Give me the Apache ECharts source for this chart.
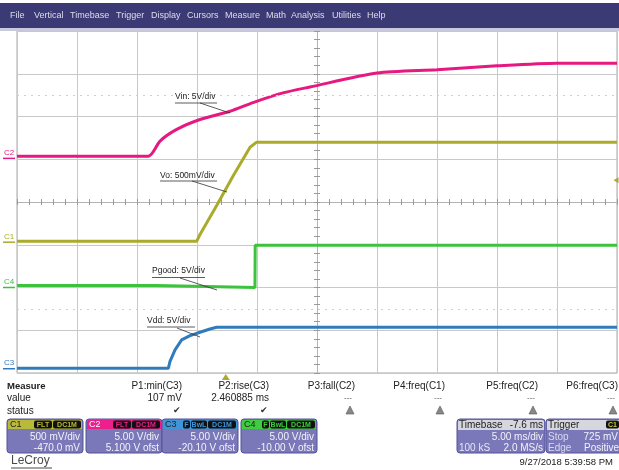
<!DOCTYPE html>
<html><head><meta charset="utf-8">
<script src="https://cdn.jsdelivr.net/npm/echarts/dist/echarts.min.js"></script>
<style>html,body{margin:0;padding:0;background:#fff}#c{width:619px;height:470px}</style>
</head><body><div id="c"></div>
<script>
// ---------------- data ----------------
const delayMs = -7.6;                 // timebase delay (trigger position vs. screen centre)
const channelNames = ['C1', 'C2', 'C3', 'C4'];
const voltsPerDiv = [0.5, 5, 5, 5];
const offsetVolts = [-0.47, 5.1, -20.1, -10];
const triggerLevelV = 0.725;

// C2  Vin (5 V/div)
const vinTimeMs = [-17.4, -6.46, -5.48, -4.09, -2.15, 0.35, 2.27, 4.77, 7.02, 12.6, 17.6, 22.6, 27.6, 32.6];
const vinVolts  = [0.25, 0.25, 2.03, 3.39, 4.55, 5.52, 6.53, 7.66, 8.35, 9.98, 10.37, 10.83, 11.14, 11.14];
// C1  Vo (500 mV/div)
const voTimeMs = [-17.4, -2.43, -2.15, -0.76, 0.63, 2.02, 2.57, 32.6];
const voVolts  = [0.01, 0.01, 0.09, 0.43, 0.78, 1.11, 1.17, 1.17];
// C4  Pgood (5 V/div)
const pgoodTimeMs = [-17.4, -5.82, -5.8, 2.43, 2.45, 32.6];
const pgoodVolts  = [0.23, 0.23, 0.0, 0.0, 4.94, 4.94];
// C3  Vdd (5 V/div)
const vddTimeMs = [-17.4, -4.79, -4.65, -4.23, -3.68, -2.98, -2.15, -1.32, -0.76, 32.6];
const vddVolts  = [0.65, 0.65, 1.46, 2.81, 3.97, 4.48, 4.87, 5.25, 5.45, 5.45];

const traceLabels = ['Vo: 500mV/div', 'Vin: 5V/div', 'Vdd: 5V/div', 'Pgood: 5V/div'];
const menuItems = ['File', 'Vertical', 'Timebase', 'Trigger', 'Display', 'Cursors', 'Measure', 'Math', 'Analysis', 'Utilities', 'Help'];
const measureNames  = ['P1:min(C3)', 'P2:rise(C3)', 'P3:fall(C2)', 'P4:freq(C1)', 'P5:freq(C2)', 'P6:freq(C3)'];
const measureValues = ['107 mV', '2.460885 ms', '---', '---', '---', '---'];
const measureOk     = [true, true, false, false, false, false];
const chVdivText   = ['500 mV/div', '5.00 V/div', '5.00 V/div', '5.00 V/div'];
const chOffsetText = ['-470.0 mV', '5.100 V ofst', '-20.10 V ofst', '-10.00 V ofst'];
const chTags = [['FLT', 'DC1M'], ['FLT', 'DC1M'], ['F', 'BwL', 'DC1M'], ['F', 'BwL', 'DC1M']];
const timebaseText = ['Timebase', '-7.6 ms', '5.00 ms/div', '100 kS', '2.0 MS/s'];
const triggerText = ['Trigger', 'C1', 'Stop', '725 mV', 'Edge', 'Positive'];
const dateText = '9/27/2018 5:39:58 PM';

// ---------------- styling ----------------
const FONT = 'Liberation Sans, Arial, sans-serif';
const traceColor  = ['#abab2b', '#e5197f', '#2f7bbb', '#3cc23c'];
const headerColor = ['#b9b93a', '#ec1f8c', '#3f95d8', '#40cc40'];
const headerTextColor = ['#222', '#fff', '#222', '#222'];

function toDiv(v, ch) { return (v + offsetVolts[ch]) / voltsPerDiv[ch]; }
function trace(times, volts, ch) { return times.map((t, i) => [t + delayMs, toDiv(volts[i], ch)]); }
function chanMark(ch) {
  const g = Math.max(-3.9, Math.min(3.9, toDiv(0, ch)));
  return {
    coord: [-25, g], symbol: 'rect', symbolSize: [12, 1.5], symbolOffset: [-8, 0],
    itemStyle: { color: traceColor[ch] },
    label: { show: true, position: 'top', distance: 1, formatter: channelNames[ch], fontSize: 8, fontFamily: FONT, color: traceColor[ch] }
  };
}

function lineSeries(name, data, ch, extra) {
  return Object.assign({
    name, type: 'line', data, showSymbol: false, symbol: 'none', animation: false,
    lineStyle: { color: traceColor[ch], width: 3 }, itemStyle: { color: traceColor[ch] },
    markPoint: { animation: false, silent: true, data: [chanMark(ch)] }
  }, extra || {});
}

const series = [
  lineSeries('Vdd', trace(vddTimeMs, vddVolts, 2), 2),
  lineSeries('Pgood', trace(pgoodTimeMs, pgoodVolts, 3), 3),
  lineSeries('Vo', trace(voTimeMs, voVolts, 0), 0),
  lineSeries('Vin', trace(vinTimeMs, vinVolts, 1), 1, { smooth: 0.25 })
];
// trigger markers on C1
series[2].markPoint.data.push(
  { coord: [delayMs, -4], symbol: 'triangle', symbolSize: [8, 6], symbolOffset: [0, 4], itemStyle: { color: '#aaaa30' }, label: { show: false } },
  { coord: [25, toDiv(triggerLevelV, 0)], symbol: 'triangle', symbolRotate: 90, symbolSize: [6, 5], symbolOffset: [-1, 0], itemStyle: { color: '#aaaa30' }, label: { show: false } }
);
// faint dotted reference rows
series[3].markLine = {
  silent: true, animation: false, symbol: ['none', 'none'], label: { show: false },
  lineStyle: { color: '#cfcfcf', type: [2, 5], width: 1 },
  data: [{ yAxis: 2.5 }, { yAxis: -2.5 }]
};

// ---------------- graphics (frame, annotations, panels) ----------------
const G = [];
function rect(x, y, w, h, fill, stroke, r) {
  G.push({ type: 'rect', z: 50, shape: { x, y, width: w, height: h, r: r || 0 }, style: { fill: fill || 'none', stroke: stroke || 'none', lineWidth: 1 } });
}
function txt(x, y, s, size, color, align, weight) {
  G.push({ type: 'text', z: 60, style: { x, y, text: s, font: (weight || 'normal') + ' ' + size + 'px ' + FONT, fill: color, textAlign: align || 'left', textVerticalAlign: 'middle' } });
}
function seg(x1, y1, x2, y2, color, w) {
  G.push({ type: 'line', z: 60, shape: { x1, y1, x2, y2 }, style: { stroke: color, lineWidth: w || 1 } });
}

// menu bar
rect(0, 3, 619, 25, '#3c3a74');
rect(0, 28, 619, 3, '#c9c9de');
const menuX = [10, 34, 70, 116, 151, 187, 225, 266, 291, 332, 367];
menuItems.forEach((m, i) => txt(menuX[i], 16, m, 9, '#dcdcec'));

// trace annotations: [textX, textY, underlineY, textRight, leader x1,y1,x2,y2]
const annPos = [
  [160, 176, 181, 217, 192, 181, 227, 192],
  [175, 97, 103, 217, 200, 103, 230, 113],
  [147, 321, 327, 195, 177, 328, 200, 337],
  [152, 271, 277.5, 205, 180, 278, 217, 290]
];
traceLabels.forEach((s, i) => {
  const p = annPos[i];
  txt(p[0], p[1], s, 8.5, '#222');
  seg(p[0], p[2], p[3], p[2], '#333', 0.8);
  seg(p[4], p[5], p[6], p[7], '#333', 0.8);
});

// measurement table
txt(7, 386, 'Measure', 9.5, '#222', 'left', 'bold');
txt(7, 398, 'value', 10, '#222');
txt(7, 411, 'status', 10, '#222');
const measRight = [182, 269, 355, 445, 538, 618];
measureNames.forEach((n, i) => {
  txt(measRight[i], 386, n, 10, '#222', 'right');
  txt(measRight[i] - (measureOk[i] ? 0 : 3), 398, measureValues[i], measureOk[i] ? 10 : 8, measureOk[i] ? '#222' : '#555', 'right');
  if (measureOk[i]) txt(measRight[i] - 5, 411, '\u2714', 9, '#333', 'center');
  else {
    const cx = measRight[i] - 5;
    G.push({ type: 'polygon', z: 60, shape: { points: [[cx, 406], [cx - 4, 414], [cx + 4, 414]] }, style: { fill: '#888', stroke: '#555', lineWidth: 0.6 } });
  }
});

// channel boxes
const boxX = [7, 86, 162, 241];
const boxW = 76;
const tagW = { FLT: 18, DC1M: 28, F: 7, BwL: 16 };
channelNames.forEach((c, i) => {
  const x = boxX[i];
  rect(x, 419, boxW, 34, '#7a78b8', null, 3);
  rect(x + 1, 420, boxW - 2, 9, headerColor[i], null, [2, 2, 0, 0]);
  rect(x, 419, boxW, 34, 'none', '#55539a', 3);
  txt(x + 3, 424.5, c, 9, headerTextColor[i]);
  let right = x + boxW - 2;
  chTags[i].slice().reverse().forEach(t => {
    const w = tagW[t];
    rect(right - w, 420.5, w, 8, '#111', null, 2);
    txt(right - w / 2, 424.6, t, 7, headerColor[i], 'center', 'bold');
    right -= w + 1;
  });
  txt(x + boxW - 3, 437.5, chVdivText[i], 10, '#f2f2fa', 'right');
  txt(x + boxW - 3, 448, chOffsetText[i], 10, '#f2f2fa', 'right');
});

// timebase box
rect(457, 419, 88, 34, '#7a78b8', null, 3);
rect(458, 420, 86, 10, '#d6d6de', null, [2, 2, 0, 0]);
rect(457, 419, 88, 34, 'none', '#55539a', 3);
txt(459, 425, timebaseText[0], 10, '#222');
txt(543, 425, timebaseText[1], 10, '#222', 'right');
txt(543, 437.5, timebaseText[2], 10, '#f2f2fa', 'right');
txt(459, 448, timebaseText[3], 10, '#e6e6f6');
txt(543, 448, timebaseText[4], 10, '#f2f2fa', 'right');
// trigger box
rect(546, 419, 80, 34, '#7a78b8', null, 3);
rect(547, 420, 78, 10, '#d6d6de', null, [2, 2, 0, 0]);
rect(546, 419, 80, 34, 'none', '#55539a', 3);
txt(548, 425, triggerText[0], 10, '#222');
rect(606, 420.5, 13, 8, '#111', null, 2);
txt(612.5, 424.6, triggerText[1], 7, '#c8c840', 'center', 'bold');
txt(548, 437.5, triggerText[2], 10, '#d8d8f0');
txt(618, 437.5, triggerText[3], 10, '#f2f2fa', 'right');
txt(548, 448, triggerText[4], 10, '#d8d8f0');
txt(619, 448, triggerText[5], 10, '#f2f2fa', 'right');

// footer
txt(613, 462, dateText, 9.5, '#222', 'right');
txt(11, 461, 'LeCroy', 12, '#4a4a4a');
seg(11, 468, 52, 468, '#4a4a4a', 1);

// ---------------- chart ----------------
const tickStyle = { color: '#9a9a9a', width: 1 };
const xCommon = { type: 'value', min: -25, max: 25, interval: 5, position: 'bottom', axisLabel: { show: false } };
const yCommon = { type: 'value', min: -4, max: 4, interval: 1, position: 'left', axisLabel: { show: false } };

const chart = echarts.init(document.getElementById('c'), null, { renderer: 'canvas', width: 619, height: 470 });
chart.setOption({
  animation: false,
  backgroundColor: '#ffffff',
  grid: { left: 17, top: 31, width: 600, height: 342, show: true, borderColor: '#a8a8a8', borderWidth: 1, backgroundColor: '#fff' },
  xAxis: [
    Object.assign({}, xCommon, {
      splitLine: { show: true, lineStyle: { color: '#c8c8c8', width: 1 } },
      axisLine: { show: true, onZero: true, lineStyle: { color: '#b4b4b4' } },
      axisTick: { show: true, inside: true, length: 3, lineStyle: tickStyle },
      minorTick: { show: true, splitNumber: 5, length: 3, lineStyle: tickStyle }
    }),
    Object.assign({}, xCommon, {
      splitLine: { show: false },
      axisLine: { show: false, onZero: true },
      axisTick: { show: true, inside: false, length: 3, lineStyle: tickStyle },
      minorTick: { show: true, splitNumber: 5, length: 3, lineStyle: tickStyle }
    })
  ],
  yAxis: [
    Object.assign({}, yCommon, {
      splitLine: { show: true, lineStyle: { color: '#c8c8c8', width: 1 } },
      axisLine: { show: true, onZero: true, lineStyle: { color: '#b4b4b4' } },
      axisTick: { show: true, inside: true, length: 3, lineStyle: tickStyle },
      minorTick: { show: true, splitNumber: 5, length: 3, lineStyle: tickStyle }
    }),
    Object.assign({}, yCommon, {
      splitLine: { show: false },
      axisLine: { show: false, onZero: true },
      axisTick: { show: true, inside: false, length: 3, lineStyle: tickStyle },
      minorTick: { show: true, splitNumber: 5, length: 3, lineStyle: tickStyle }
    })
  ],
  series,
  graphic: G
});
</script></body></html>
